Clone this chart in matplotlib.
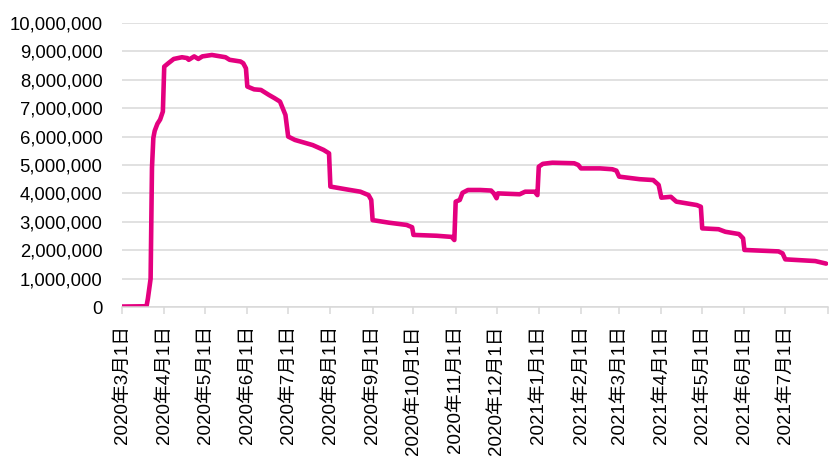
import pandas as pd
import matplotlib.pyplot as plt
from matplotlib.ticker import FuncFormatter

plt.rcParams['font.family'] = ['Liberation Sans', 'Noto Sans CJK JP', 'DejaVu Sans']

# (date, value)
dates = [
    '2020-03-01', '2020-03-19', '2020-03-20', '2020-03-22', '2020-03-23', '2020-03-24',
    '2020-03-25', '2020-03-27', '2020-03-29', '2020-03-31', '2020-04-01', '2020-04-04',
    '2020-04-08', '2020-04-14', '2020-04-18', '2020-04-19', '2020-04-23', '2020-04-26',
    '2020-04-29', '2020-05-06', '2020-05-16', '2020-05-19', '2020-05-27', '2020-05-29',
    '2020-05-31', '2020-06-01', '2020-06-06', '2020-06-11', '2020-06-17', '2020-06-21',
    '2020-06-25', '2020-06-29', '2020-07-01', '2020-07-06', '2020-07-19', '2020-07-27',
    '2020-07-31', '2020-08-01', '2020-08-13', '2020-08-23', '2020-08-29', '2020-08-31',
    '2020-09-01', '2020-09-13', '2020-09-26', '2020-09-30', '2020-10-01', '2020-10-18',
    '2020-10-29', '2020-10-31', '2020-11-01', '2020-11-04', '2020-11-06', '2020-11-10',
    '2020-11-19', '2020-11-27', '2020-11-29', '2020-12-01', '2020-12-02', '2020-12-18',
    '2020-12-22', '2020-12-29', '2020-12-31', '2021-01-01', '2021-01-04', '2021-01-11',
    '2021-01-27', '2021-01-30', '2021-02-01', '2021-02-15', '2021-02-24', '2021-02-27',
    '2021-03-01', '2021-03-16', '2021-03-26', '2021-03-30', '2021-04-01', '2021-04-08',
    '2021-04-12', '2021-04-27', '2021-04-30', '2021-05-01', '2021-05-13', '2021-05-18',
    '2021-05-28', '2021-05-31', '2021-06-01', '2021-06-26', '2021-06-29', '2021-07-01',
    '2021-07-23', '2021-07-31',
]
values = [
    0.02, 0.03, 0.30, 1.00, 4.90, 5.95,
    6.20, 6.45, 6.60, 6.88, 8.46, 8.58,
    8.73, 8.79, 8.76, 8.70, 8.82, 8.73,
    8.82, 8.87, 8.79, 8.70, 8.64, 8.58,
    8.40, 7.76, 7.66, 7.64, 7.46, 7.35,
    7.23, 6.76, 6.00, 5.88, 5.70, 5.53,
    5.41, 4.24, 4.14, 4.06, 3.94, 3.77,
    3.06, 2.97, 2.89, 2.81, 2.54, 2.51,
    2.47, 2.36, 3.71, 3.77, 4.02, 4.12,
    4.12, 4.10, 4.00, 3.83, 4.00, 3.97,
    4.06, 4.06, 3.94, 4.94, 5.04, 5.08,
    5.06, 5.00, 4.88, 4.88, 4.85, 4.80,
    4.59, 4.50, 4.47, 4.30, 3.85, 3.88,
    3.71, 3.59, 3.53, 2.77, 2.74, 2.65,
    2.57, 2.42, 2.01, 1.96, 1.89, 1.68,
    1.62, 1.53,
]

x = pd.to_datetime(dates)
y = [v * 1e6 for v in values]

fig = plt.figure(figsize=(8.3, 4.57), dpi=100)
ax = fig.add_axes([0.147, 0.328, 0.85, 0.622])

ax.plot(x, y, color='#E4007F', linewidth=3.3, solid_joinstyle='round', solid_capstyle='round')

ax.set_ylim(0, 10e6)
ax.set_yticks(range(0, 10000001, 1000000))
ax.yaxis.set_major_formatter(FuncFormatter(lambda v, p: f'{int(v):,}'))
ax.grid(axis='y', color='#d9d9d9', linewidth=1.1)
ax.set_axisbelow(True)

ticks = pd.date_range('2020-03-01', '2021-08-01', freq='MS')
ax.set_xlim(ticks[0], ticks[-1])
ax.set_xticks(ticks)
labels = [f'{d.year}年{d.month}月1日' for d in ticks]
labels[-1] = ''
ax.set_xticklabels(labels, rotation=90, fontsize=13.5)

for s in ['top', 'right', 'left']:
    ax.spines[s].set_visible(False)
ax.spines['bottom'].set_color('#d9d9d9')
ax.spines['bottom'].set_linewidth(1.1)
ax.tick_params(axis='x', colors='#d9d9d9', length=5, width=1.1, pad=8, labelcolor='black')
ax.tick_params(axis='y', length=0, pad=14, labelsize=13.3, labelcolor='black')

fig.savefig('out.png', dpi=100)
